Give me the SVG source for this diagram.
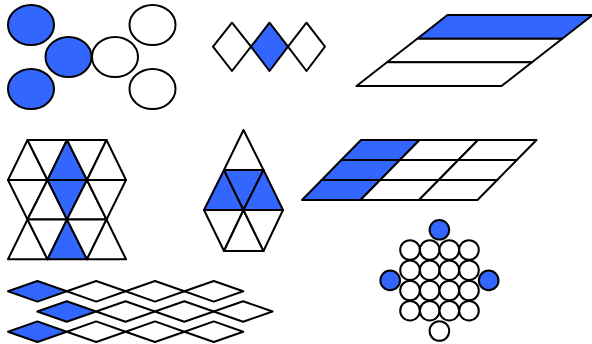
<svg xmlns="http://www.w3.org/2000/svg" width="592" height="344" viewBox="0 0 592 344">
<style>
.s{stroke:#000;stroke-width:2;stroke-linejoin:round;fill:#fff}
.b{fill:#3366ff}
</style>
<rect width="592" height="344" fill="#fff"/>
<g id="ellipses" class="s">
<ellipse class="b" cx="31" cy="25" rx="23" ry="20"/>
<ellipse class="b" cx="68.5" cy="57" rx="23" ry="20"/>
<ellipse class="b" cx="31" cy="89" rx="23" ry="20"/>
<ellipse cx="115" cy="57" rx="23" ry="20"/>
<ellipse cx="152.5" cy="25" rx="23" ry="20"/>
<ellipse cx="152.5" cy="89" rx="23" ry="20"/>
</g>
<g id="diamonds" class="s">
<polygon points="213,46.7 232,22.7 251,46.7 232,71"/>
<polygon class="b" points="251,46.7 269.5,22.7 288,46.7 269.5,71"/>
<polygon points="288,46.7 306.5,22.7 325,46.7 306.5,71"/>
</g>
<g id="strips" class="s">
<polygon class="b" points="447.5,15 592.5,15 562.2,38.7 417.2,38.7"/>
<polygon points="417.2,38.7 562.2,38.7 532,62.3 387,62.3"/>
<polygon points="387,62.3 532,62.3 501.5,86 356.5,86"/>
</g>
<g id="trigrid" class="s">
<polygon points="8,180 27.5,140 47.5,180"/>
<polygon points="27.5,140 47.5,180 67,140"/>
<polygon class="b" points="47.5,180 67,140 87,180"/>
<polygon points="67,140 87,180 106.5,140"/>
<polygon points="87,180 106.5,140 126,180"/>
<polygon points="8,180 47.5,180 27.5,219.5"/>
<polygon points="27.5,219.5 47.5,180 67,219.5"/>
<polygon class="b" points="47.5,180 87,180 67,219.5"/>
<polygon points="67,219.5 87,180 106.5,219.5"/>
<polygon points="87,180 126,180 106.5,219.5"/>
<polygon points="8,259.3 27.5,219.5 47.5,259.3"/>
<polygon points="27.5,219.5 47.5,259.3 67,219.5"/>
<polygon class="b" points="47.5,259.3 67,219.5 87,259.3"/>
<polygon points="67,219.5 87,259.3 106.5,219.5"/>
<polygon points="87,259.3 106.5,219.5 126,259.3"/>
</g>
<g id="hexkite" class="s">
<polygon points="243.5,130 224,170 263.5,170"/>
<polygon class="b" points="224,170 204,210 243.5,210"/>
<polygon class="b" points="224,170 263.5,170 243.5,210"/>
<polygon class="b" points="263.5,170 243.5,210 283,210"/>
<polygon points="204,210 243.5,210 224,251"/>
<polygon points="243.5,210 224,251 263.5,251"/>
<polygon points="243.5,210 283,210 263.5,251"/>
</g>
<g id="paragrid" class="s">
<polygon class="b" points="361,140 419.5,140 399.8,160 341.3,160"/>
<polygon points="419.5,140 478,140 458.3,160 399.8,160"/>
<polygon points="478,140 536.5,140 516.8,160 458.3,160"/>
<polygon class="b" points="341.3,160 399.8,160 380.2,180 321.7,180"/>
<polygon points="399.8,160 458.3,160 438.7,180 380.2,180"/>
<polygon points="458.3,160 516.8,160 497.2,180 438.7,180"/>
<polygon class="b" points="321.7,180 380.2,180 360.5,200 302,200"/>
<polygon points="380.2,180 438.7,180 419,200 360.5,200"/>
<polygon points="438.7,180 497.2,180 477.5,200 419,200"/>
</g>
<g id="rhombi" class="s">
<polygon class="b" points="8,291.3 37.4,281 66.8,291.3 37.4,301.6"/>
<polygon points="66.8,291.3 96.2,281 125.6,291.3 96.2,301.6"/>
<polygon points="125.6,291.3 155,281 184.4,291.3 155,301.6"/>
<polygon points="184.4,291.3 213.8,281 243.2,291.3 213.8,301.6"/>
<polygon class="b" points="37.3,311.5 66.7,301.2 96.1,311.5 66.7,321.8"/>
<polygon points="96.1,311.5 125.5,301.2 154.9,311.5 125.5,321.8"/>
<polygon points="154.9,311.5 184.3,301.2 213.7,311.5 184.3,321.8"/>
<polygon points="213.7,311.5 243.1,301.2 272.5,311.5 243.1,321.8"/>
<polygon class="b" points="8,331.7 37.4,321.4 66.8,331.7 37.4,342"/>
<polygon points="66.8,331.7 96.2,321.4 125.6,331.7 96.2,342"/>
<polygon points="125.6,331.7 155,321.4 184.4,331.7 155,342"/>
<polygon points="184.4,331.7 213.8,321.4 243.2,331.7 213.8,342"/>
</g>
<g id="circles" class="s">
<circle class="b" cx="439.4" cy="229.8" r="9.8"/>
<circle class="b" cx="390.2" cy="280.4" r="9.8"/>
<circle class="b" cx="488.7" cy="280.4" r="9.8"/>
<circle cx="439.4" cy="331" r="9.8"/>
<circle cx="410" cy="250" r="9.8"/><circle cx="429.7" cy="250" r="9.8"/><circle cx="449.3" cy="250" r="9.8"/><circle cx="469" cy="250" r="9.8"/>
<circle cx="410" cy="270.2" r="9.8"/><circle cx="429.7" cy="270.2" r="9.8"/><circle cx="449.3" cy="270.2" r="9.8"/><circle cx="469" cy="270.2" r="9.8"/>
<circle cx="410" cy="290.5" r="9.8"/><circle cx="429.7" cy="290.5" r="9.8"/><circle cx="449.3" cy="290.5" r="9.8"/><circle cx="469" cy="290.5" r="9.8"/>
<circle cx="410" cy="310.7" r="9.8"/><circle cx="429.7" cy="310.7" r="9.8"/><circle cx="449.3" cy="310.7" r="9.8"/><circle cx="469" cy="310.7" r="9.8"/>
</g>
</svg>
